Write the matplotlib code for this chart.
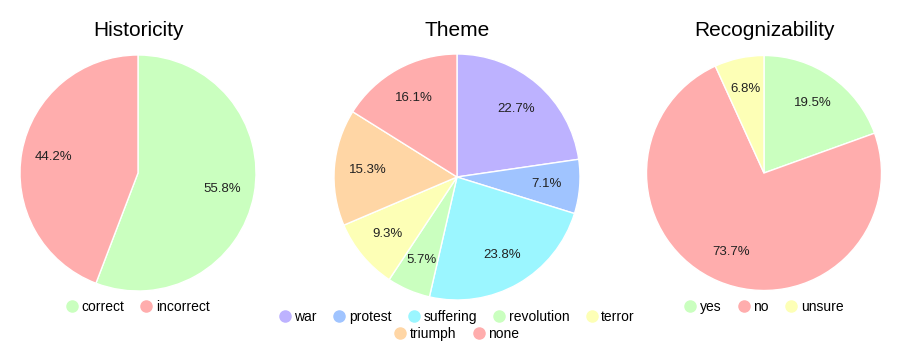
import matplotlib
matplotlib.use("Agg")
import matplotlib.pyplot as plt
from matplotlib.lines import Line2D

plt.rcParams["font.family"] = ["Liberation Sans", "DejaVu Sans"]

# ---- data ----
hist_labels = ["correct", "incorrect"]
hist_values = [55.8, 44.2]
hist_colors = ["#caffbf", "#ffadad"]

theme_labels = ["war", "protest", "suffering", "revolution", "terror", "triumph", "none"]
theme_values = [22.7, 7.1, 23.8, 5.7, 9.3, 15.3, 16.1]
theme_colors = ["#bdb2ff", "#a0c4ff", "#9bf6ff", "#caffbf", "#fdffb6", "#ffd6a5", "#ffadad"]

recog_labels = ["yes", "no", "unsure"]
recog_values = [19.5, 73.7, 6.8]
recog_colors = ["#caffbf", "#ffadad", "#fdffb6"]

W, H = 897, 356
fig = plt.figure(figsize=(W / 100, H / 100), dpi=100)


def px_axes(cx, cy, r):
    return fig.add_axes([(cx - r) / W, (H - cy - r) / H, 2 * r / W, 2 * r / H])


def legend_row(labels, colors, cx, y):
    handles = [Line2D([], [], marker="o", linestyle="", markersize=8,
                      markerfacecolor=c, markeredgecolor=c) for c in colors]
    fig.legend(handles, labels, loc="upper center", bbox_to_anchor=(cx / W, 1 - y / H),
               ncol=len(labels), frameon=False, fontsize=10, handletextpad=0.3,
               columnspacing=1.2, borderpad=0, handlelength=0.8)


def draw(cx, cy, r, title, labels, values, colors):
    ax = px_axes(cx, cy, r)
    ax.pie(values, colors=colors, startangle=90, counterclock=False,
           autopct="%.1f%%", pctdistance=0.73,
           wedgeprops=dict(edgecolor="white", linewidth=1),
           textprops=dict(fontsize=9.5, color="#222222"))
    ax.set_xlim(-1, 1)
    ax.set_ylim(-1, 1)
    ax.set_aspect("equal")
    fig.text(cx / W, 1 - 30 / H, title, ha="center", va="center", fontsize=15)


draw(138, 173, 118, "Historicity", hist_labels, hist_values, hist_colors)
legend_row(hist_labels, hist_colors, 138, 293)

draw(457, 177, 123, "Theme", theme_labels, theme_values, theme_colors)
legend_row(theme_labels[:5], theme_colors[:5], 457, 303)
legend_row(theme_labels[5:], theme_colors[5:], 457, 320)

draw(764, 173, 117.5, "Recognizability", recog_labels, recog_values, recog_colors)
legend_row(recog_labels, recog_colors, 764, 293)

plt.savefig("out.png", dpi=100)
